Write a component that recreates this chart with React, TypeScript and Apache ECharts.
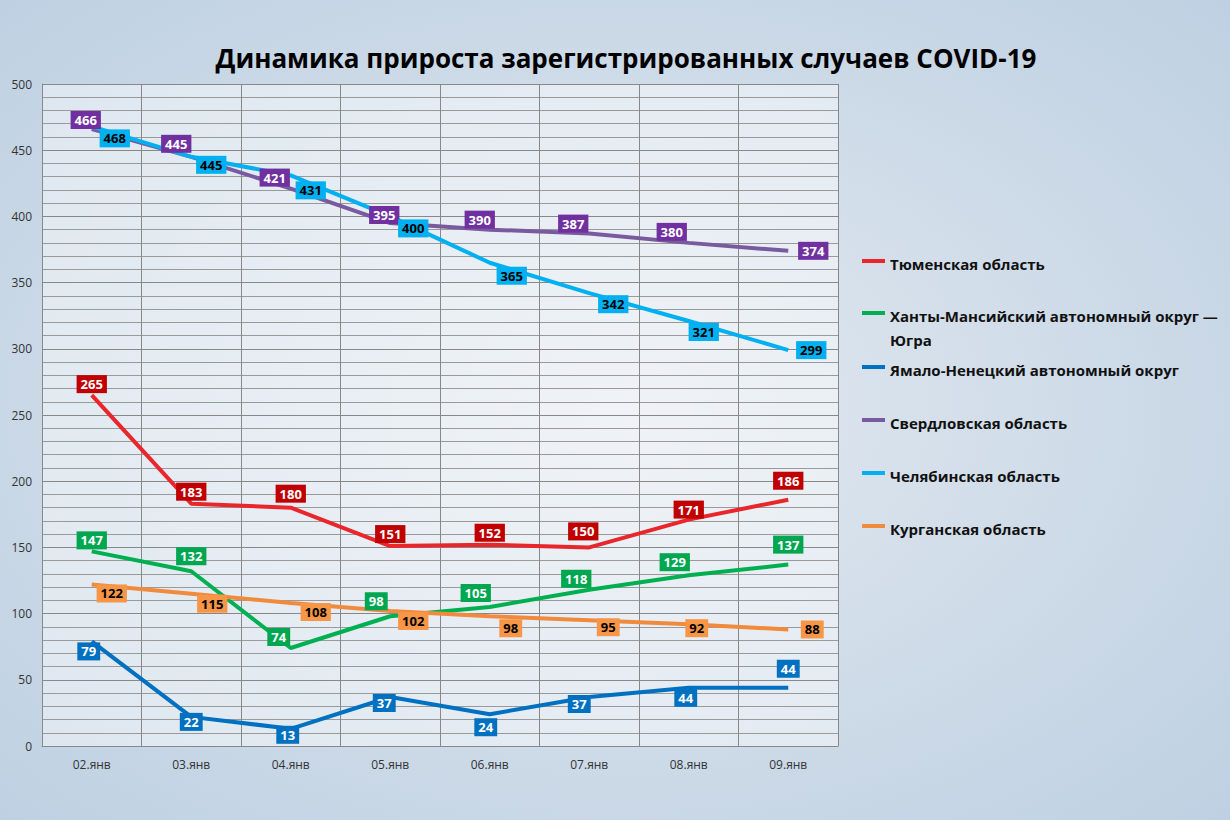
import React, { useEffect, useRef } from "react";
import * as echarts from "echarts";

const categories = ["02.янв", "03.янв", "04.янв", "05.янв", "06.янв", "07.янв", "08.янв", "09.янв"];
const tyumen = [265, 183, 180, 151, 152, 150, 171, 186];
const hmao = [147, 132, 74, 98, 105, 118, 129, 137];
const yanao = [79, 22, 13, 37, 24, 37, 44, 44];
const sverdl = [466, 445, 421, 395, 390, 387, 380, 374];
const chel = [468, 445, 431, 400, 365, 342, 321, 299];
const kurgan = [122, 115, 108, 102, 98, 95, 92, 88];
const seriesNames = [
  "Тюменская область",
  "Ханты-Мансийский автономный округ —\nЮгра",
  "Ямало-Ненецкий автономный округ",
  "Свердловская область",
  "Челябинская область",
  "Курганская область",
];
const yTicks = [0, 500, 50];

const offsets: number[][][] = [
  [[0, -11], [0, -12], [0, -14], [0, -12], [0, -12], [-6, -16], [0, -10], [0, -19]],
  [[0, -11], [0, -15], [-12, -11], [-14, -15], [-14, -14], [-13, -11], [-14, -13], [0, -20]],
  [[-3, 10], [0, 5], [-3, 6], [-6, 6], [-4, 13], [-10, 7], [-3, 10], [0, -19]],
  [[-6, -9], [-15, -13], [-16, -11], [-6, -8], [-10, -10], [-16, -10], [-17, -11], [25, 0]],
  [[23, 12], [20, 8], [20, 15], [23, 12], [22, 13], [24, 11], [15, 11], [23, 0]],
  [[20, 9], [21, 10], [25, 9], [23, 10], [21, 12], [19, 7], [8, 4], [24, 0]],
];
const lineColors = ["#e8262b", "#00b050", "#0070c0", "#7a5a9e", "#00b0f0", "#f08a3c"];
const labelBg = ["#c00000", "#00a650", "#0070c0", "#7030a0", "#00b0f0", "#f79646"];
const labelFg = ["#fff", "#fff", "#fff", "#fff", "#000", "#000"];
const allData = [tyumen, hmao, yanao, sverdl, chel, kurgan];
const legendY = [261, 313, 367, 420, 473, 526];

export default function App() {
  const ref = useRef<HTMLDivElement>(null);
  useEffect(() => {
    document.body.style.margin = "0";
    const chart = echarts.init(ref.current!, null, { renderer: "svg" });
    const lines = allData.map((d, si) => ({
      type: "line",
      name: seriesNames[si],
      data: d,
      symbol: "none",
      lineStyle: { color: lineColors[si], width: 4 },
      itemStyle: { color: lineColors[si] },
      z: 2 + si,
    }));
    const labels = allData.map((d, si) => ({
      type: "line",
      name: seriesNames[si] + " labels",
      data: d.map((v, i) => ({ value: v, label: { offset: offsets[si][i] } })),
      symbol: "circle",
      symbolSize: 0.1,
      lineStyle: { width: 0, opacity: 0 },
      itemStyle: { color: lineColors[si] },
      z: 20 + si,
      label: {
        show: true,
        position: "inside",
        color: labelFg[si],
        backgroundColor: labelBg[si],
        fontWeight: "bold",
        fontSize: 13,
        fontFamily: "Open Sans",
        padding: [3, 4, 2, 4],
      },
    }));
    const graphic: any[] = [];
    seriesNames.forEach((n, i) => {
      graphic.push({
        type: "line",
        shape: { x1: 862, y1: legendY[i], x2: 885, y2: legendY[i] },
        style: { stroke: lineColors[i], lineWidth: 4 },
      });
      graphic.push({
        type: "text",
        x: 890,
        y: legendY[i] - 9,
        style: { text: n, fill: "#111", font: "bold 15px 'Open Sans'", lineHeight: 24 },
      });
    });
    chart.setOption({
      animation: false,
      backgroundColor: {
        type: "radial", x: 0.5, y: 0.5, r: 0.8,
        colorStops: [{ offset: 0, color: "#e3e9f0" }, { offset: 1, color: "#b9cde0" }],
      },
      title: {
        text: "Динамика прироста зарегистрированных случаев COVID-19",
        left: 621, top: 40, textAlign: "center",
        textStyle: { fontFamily: "Open Sans", fontWeight: "bold", fontSize: 26, color: "#000" },
      },
      grid: { left: 42, right: 392, top: 84, bottom: 74, show: true, backgroundColor: "rgba(255,255,255,0.45)", borderWidth: 0 },
      xAxis: {
        type: "category", data: categories, boundaryGap: true,
        axisLine: { lineStyle: { color: "#888" } }, axisTick: { show: false },
        axisLabel: { color: "#333", fontSize: 12, margin: 12, fontFamily: "Open Sans" },
        splitLine: { show: true, lineStyle: { color: "#888", width: 1 } },
      },
      yAxis: {
        type: "value", min: yTicks[0], max: yTicks[1], interval: yTicks[2],
        axisLine: { show: true, lineStyle: { color: "#888" } },
        axisLabel: { color: "#333", fontSize: 12, fontFamily: "Open Sans", margin: 10 },
        splitLine: { lineStyle: { color: "#888" } },
        minorTick: { show: false, splitNumber: 5 },
        minorSplitLine: { show: true, lineStyle: { color: "#9a9a9a", width: 1 } },
      },
      series: [...lines, ...labels],
      graphic,
    });
    return () => chart.dispose();
  }, []);
  return <div ref={ref} style={{ width: 1230, height: 820 }} />;
}
